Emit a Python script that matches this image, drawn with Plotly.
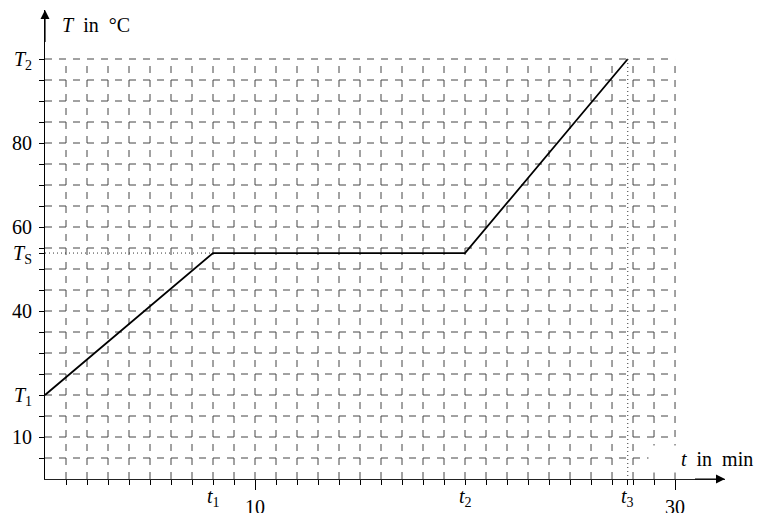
import plotly.graph_objects as go

# ---- data ----
t_points = [0, 8, 20, 27.75]          # time in min
T_points = [20, 53.8, 53.8, 100]      # temperature in °C
t1, t2, t3 = 8, 20, 27.75
T1, TS, T2 = 20, 53.8, 100

x_grid = list(range(1, 31))           # grid / minor ticks every minute
y_grid = list(range(5, 105, 5))       # grid / minor ticks every 5 °C

x_num_ticks = [10, 20, 30]
x_num_text = ["10", "", "30"]
x_sym_ticks = [t1, t2, t3]
x_sym_text = ["<i>t</i><sub>1</sub>", "<i>t</i><sub>2</sub>", "<i>t</i><sub>3</sub>"]

y_ticks = [10, T1, 40, TS, 60, 80, T2]
y_text = ["10", "<i>T</i><sub>1</sub>", "40", "<i>T</i><sub>S</sub>", "60", "80",
          "<i>T</i><sub>2</sub>"]

X_MAX = 32.38
Y_MAX = 111.67
GRID_X_END = 30
GRID_Y_END = 100

FONT = "Liberation Serif"
FS = 20
GRID_COLOR = "#444444"
DASH = "7px,7px"

fig = go.Figure()

# grid (dashed) - horizontal
for gy in y_grid:
    fig.add_trace(go.Scatter(x=[0, GRID_X_END], y=[gy, gy], mode="lines",
                             line=dict(color=GRID_COLOR, width=1, dash=DASH),
                             hoverinfo="skip", showlegend=False))
# grid (dashed) - vertical
for gx in x_grid:
    fig.add_trace(go.Scatter(x=[gx, gx], y=[0, GRID_Y_END], mode="lines",
                             line=dict(color=GRID_COLOR, width=1, dash=DASH),
                             hoverinfo="skip", showlegend=False))

# dotted helper lines
fig.add_trace(go.Scatter(x=[0, t1], y=[TS, TS], mode="lines",
                         line=dict(color="#333333", width=1, dash="1px,3px"),
                         hoverinfo="skip", showlegend=False))
fig.add_trace(go.Scatter(x=[t3, t3], y=[T2, 0], mode="lines", xaxis="x2",
                         line=dict(color="#333333", width=1, dash="1px,3px"),
                         hoverinfo="skip", showlegend=False))

# heating curve
fig.add_trace(go.Scatter(x=t_points, y=T_points, mode="lines",
                         line=dict(color="black", width=1.8),
                         showlegend=False))

fig.update_layout(
    width=761, height=513,
    margin=dict(l=45, r=36, t=10, b=34, autoexpand=False),
    paper_bgcolor="white", plot_bgcolor="white",
    font=dict(family=FONT, size=FS, color="black"),
    xaxis=dict(range=[0, X_MAX], showline=True, linecolor="#222222", linewidth=1,
               showgrid=False, zeroline=False, automargin=False,
               tickmode="array", tickvals=x_num_ticks, ticktext=x_num_text,
               ticks="outside", ticklen=10, tickwidth=1, tickcolor="black",
               ticklabelstandoff=0,
               minor=dict(tickmode="array", tickvals=x_grid, ticks="outside",
                          ticklen=5, tickwidth=1, tickcolor="black", showgrid=False)),
    xaxis2=dict(range=[0, X_MAX], overlaying="x", anchor="y", side="bottom",
                showline=False, showgrid=False, zeroline=False, automargin=False,
                tickmode="array", tickvals=x_sym_ticks, ticktext=x_sym_text,
                showticklabels=False,
                ticks="outside", ticklen=5, tickwidth=1, tickcolor="black"),
    yaxis=dict(range=[0, Y_MAX], showline=True, linecolor="black", linewidth=1,
               showgrid=False, zeroline=False, automargin=False,
               tickmode="array", tickvals=y_ticks, ticktext=y_text,
               ticks="outside", ticklen=5, tickwidth=1, tickcolor="black",
               ticklabelstandoff=3,
               minor=dict(tickmode="array", tickvals=y_grid, ticks="outside",
                          ticklen=5, tickwidth=1, tickcolor="black", showgrid=False)),
)

# symbolic time labels under the axis
for tv, tt in zip(x_sym_ticks, x_sym_text):
    fig.add_annotation(x=tv, y=0, xref="x", yref="paper", xanchor="center",
                       yanchor="middle", yshift=-18, text=tt, showarrow=False,
                       font=dict(family=FONT, size=FS))

# axis arrows
fig.add_annotation(x=X_MAX, y=0, ax=X_MAX - 1.5, ay=0, xref="x", yref="y",
                   axref="x", ayref="y", text="", showarrow=True,
                   arrowhead=2, arrowsize=1.5, arrowwidth=1.2, arrowcolor="black")
fig.add_annotation(x=0, y=Y_MAX, ax=0, ay=Y_MAX - 8, xref="x", yref="y",
                   axref="x", ayref="y", text="", showarrow=True,
                   arrowhead=2, arrowsize=1.5, arrowwidth=1.2, arrowcolor="black")

# axis titles
fig.add_annotation(x=0.71, y=108, xref="x", yref="y", xanchor="left", yanchor="middle",
                   text="<i>T</i>&nbsp;&nbsp;in&nbsp;&nbsp;°C", showarrow=False,
                   font=dict(family=FONT, size=FS))
fig.add_annotation(x=28.7, y=4.7, xref="x", yref="y", xanchor="left", yanchor="middle",
                   text="&nbsp;&nbsp;&nbsp;&nbsp;&nbsp;&nbsp;<i>t</i>&nbsp;&nbsp;in&nbsp;&nbsp;min",
                   showarrow=False, bgcolor="white", borderpad=2,
                   font=dict(family=FONT, size=FS))

fig.write_html("out.html")
